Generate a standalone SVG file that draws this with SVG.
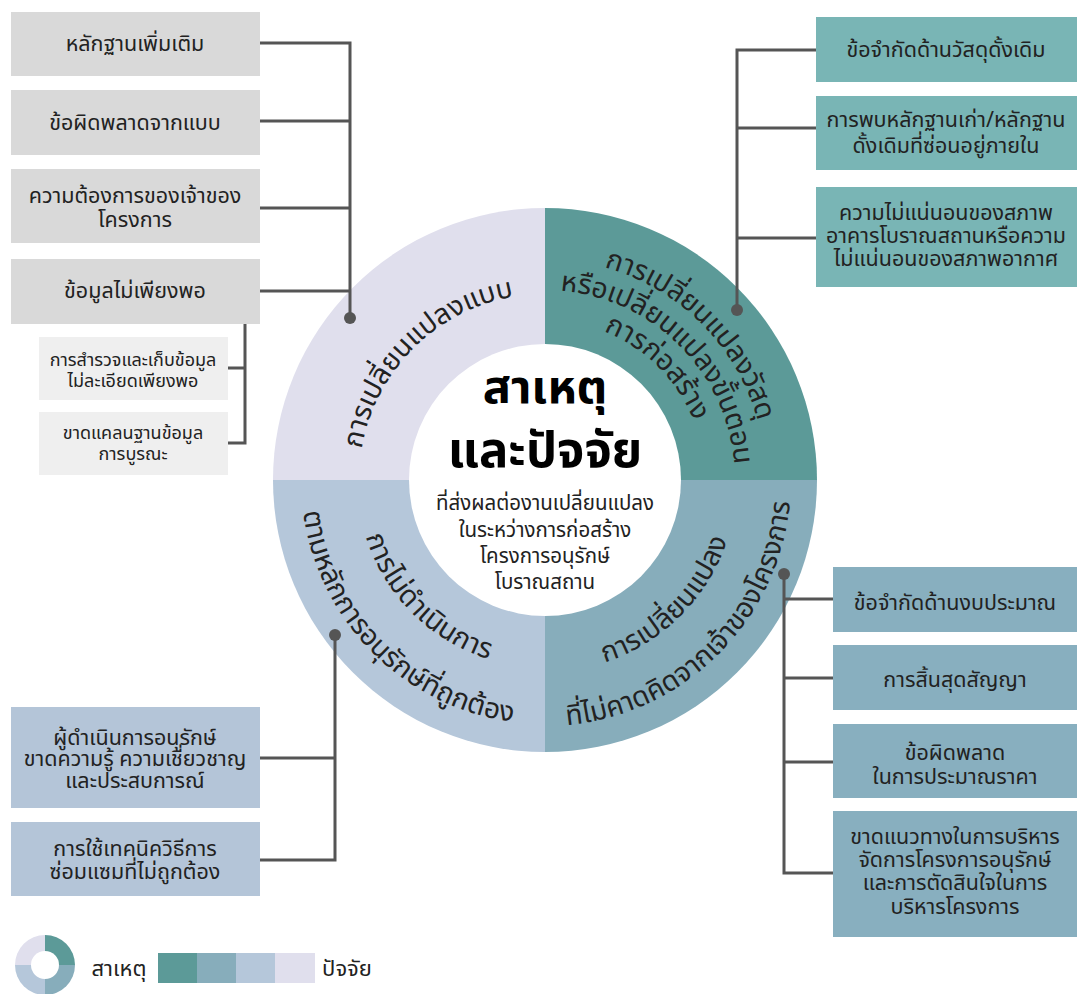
<svg xmlns="http://www.w3.org/2000/svg" width="1077" height="994" viewBox="0 0 1077 994">
<defs>
<style>
text{font-family:"Noto Sans Thai","Noto Sans",sans-serif;fill:#222;text-anchor:middle}
.bx{font-size:21.5px}
.sb{font-size:18px}
.arc{font-size:28px}
.ln{stroke:#555;stroke-width:3;fill:none}
.dot{fill:#555}
</style>
<path id="aTL" d="M 359 480 A 186 186 0 0 1 545 294"/>
<path id="aTR1" d="M 545 259 A 221 221 0 0 1 766 480"/>
<path id="aTR2" d="M 545 290 A 190 190 0 0 1 735 480"/>
<path id="aTR3" d="M 545 320 A 160 160 0 0 1 705 480"/>
<path id="aBR1" d="M 545 672 A 192 192 0 0 0 737 480"/>
<path id="aBR2" d="M 545 726 A 246 246 0 0 0 791 480"/>
<path id="aBL1" d="M 357 480 A 188 188 0 0 0 545 668"/>
<path id="aBL2" d="M 301 480 A 244 244 0 0 0 545 724"/>
</defs>
<rect width="1077" height="994" fill="#fff"/>

<g id="wheel">
<path d="M545 480 L273 480 A272 272 0 0 1 545 208 Z" fill="#e0dfed"/>
<path d="M545 480 L545 208 A272 272 0 0 1 817 480 Z" fill="#5c9a98"/>
<path d="M545 480 L817 480 A272 272 0 0 1 545 752 Z" fill="#87adbb"/>
<path d="M545 480 L545 752 A272 272 0 0 1 273 480 Z" fill="#b5c7da"/>
<circle cx="545" cy="480" r="136" fill="#fff"/>
</g>

<g id="center">
<text x="545" y="403" style="font-size:47px;font-weight:bold;fill:#000">สาเหตุ</text>
<text x="545" y="467" style="font-size:49px;font-weight:bold;fill:#000">และปัจจัย</text>
<text x="545" y="510" style="font-size:20.5px">ที่ส่งผลต่องานเปลี่ยนแปลง</text>
<text x="545" y="537" style="font-size:20.5px">ในระหว่างการก่อสร้าง</text>
<text x="545" y="563" style="font-size:20.5px">โครงการอนุรักษ์</text>
<text x="545" y="589" style="font-size:20.5px">โบราณสถาน</text>
</g>

<g id="q-design">
<text class="arc"><textPath href="#aTL" startOffset="50%">การเปลี่ยนแปลงแบบ</textPath></text>
</g>
<g id="q-material">
<text class="arc"><textPath href="#aTR1" startOffset="50%">การเปลี่ยนแปลงวัสดุ</textPath></text>
<text class="arc"><textPath href="#aTR2" startOffset="50%">หรือเปลี่ยนแปลงขั้นตอน</textPath></text>
<text class="arc"><textPath href="#aTR3" startOffset="50%">การก่อสร้าง</textPath></text>
</g>
<g id="q-owner">
<text class="arc"><textPath href="#aBR1" startOffset="50%">การเปลี่ยนแปลง</textPath></text>
<text class="arc"><textPath href="#aBR2" startOffset="50%">ที่ไม่คาดคิดจากเจ้าของโครงการ</textPath></text>
</g>
<g id="q-principle">
<text class="arc"><textPath href="#aBL1" startOffset="50%">การไม่ดำเนินการ</textPath></text>
<text class="arc"><textPath href="#aBL2" startOffset="50%">ตามหลักการอนุรักษ์ที่ถูกต้อง</textPath></text>
</g>

<g id="connectors">
<path class="ln" d="M260 43 H350 V318 M260 121 H350 M260 208 H350 M260 291 H350"/>
<path class="ln" d="M245 316 V443 H228 M228 368 H245"/>
<path class="ln" d="M737 310 V50 H816 M737 128 H816 M737 238 H816"/>
<path class="ln" d="M784 574 V873 H833 M784 599 H833 M784 678 H833 M784 762 H833"/>
<path class="ln" d="M335 635 V860 H260 M260 758 H335"/>
<circle class="dot" cx="350" cy="318" r="6"/>
<circle class="dot" cx="245" cy="316" r="5"/>
<circle class="dot" cx="737" cy="310" r="6"/>
<circle class="dot" cx="784" cy="574" r="6"/>
<circle class="dot" cx="335" cy="635" r="6"/>
</g>

<g id="n-evidence"><rect x="11" y="12" width="249" height="64" fill="#d9d9d9"/><text class="bx" x="135" y="51">หลักฐานเพิ่มเติม</text></g>
<g id="n-designerror"><rect x="11" y="90" width="249" height="65" fill="#d9d9d9"/><text class="bx" x="135" y="130">ข้อผิดพลาดจากแบบ</text></g>
<g id="n-ownerneed"><rect x="11" y="169" width="249" height="74" fill="#d9d9d9"/><text class="bx" x="135" y="203">ความต้องการของเจ้าของ</text><text class="bx" x="135" y="227">โครงการ</text></g>
<g id="n-insufficient"><rect x="11" y="259" width="249" height="65" fill="#d9d9d9"/><text class="bx" x="135" y="298">ข้อมูลไม่เพียงพอ</text></g>
<g id="n-survey"><rect x="39" y="337" width="189" height="63" fill="#efefef"/><text class="sb" x="133" y="366">การสำรวจและเก็บข้อมูล</text><text class="sb" x="133" y="387">ไม่ละเอียดเพียงพอ</text></g>
<g id="n-database"><rect x="39" y="412" width="189" height="63" fill="#efefef"/><text class="sb" x="133" y="439">ขาดแคลนฐานข้อมูล</text><text class="sb" x="133" y="460">การบูรณะ</text></g>

<g id="n-material"><rect x="816" y="17" width="261" height="65" fill="#79b5b5"/><text class="bx" x="946" y="57">ข้อจำกัดด้านวัสดุดั้งเดิม</text></g>
<g id="n-hidden"><rect x="816" y="96" width="261" height="74" fill="#79b5b5"/><text class="bx" x="946" y="127">การพบหลักฐานเก่า/หลักฐาน</text><text class="bx" x="946" y="153">ดั้งเดิมที่ซ่อนอยู่ภายใน</text></g>
<g id="n-uncertain"><rect x="816" y="187" width="261" height="100" fill="#79b5b5"/><text class="bx" x="946" y="220">ความไม่แน่นอนของสภาพ</text><text class="bx" x="946" y="243">อาคารโบราณสถานหรือความ</text><text class="bx" x="946" y="266">ไม่แน่นอนของสภาพอากาศ</text></g>

<g id="n-budget"><rect x="833" y="567" width="244" height="65" fill="#88afbf"/><text class="bx" x="955" y="610">ข้อจำกัดด้านงบประมาณ</text></g>
<g id="n-contract"><rect x="833" y="645" width="244" height="65" fill="#88afbf"/><text class="bx" x="955" y="687">การสิ้นสุดสัญญา</text></g>
<g id="n-estimate"><rect x="833" y="724" width="244" height="74" fill="#88afbf"/><text class="bx" x="955" y="760">ข้อผิดพลาด</text><text class="bx" x="955" y="784">ในการประมาณราคา</text></g>
<g id="n-management"><rect x="833" y="811" width="244" height="126" fill="#88afbf"/><text class="bx" x="955" y="844">ขาดแนวทางในการบริหาร</text><text class="bx" x="955" y="867">จัดการโครงการอนุรักษ์</text><text class="bx" x="955" y="890">และการตัดสินใจในการ</text><text class="bx" x="955" y="914">บริหารโครงการ</text></g>

<g id="n-expertise"><rect x="11" y="707" width="249" height="101" fill="#b4c5d8"/><text class="bx" x="135" y="745">ผู้ดำเนินการอนุรักษ์</text><text class="bx" x="135" y="766">ขาดความรู้ ความเชี่ยวชาญ</text><text class="bx" x="135" y="788">และประสบการณ์</text></g>
<g id="n-technique"><rect x="11" y="822" width="249" height="74" fill="#b4c5d8"/><text class="bx" x="135" y="856">การใช้เทคนิควิธีการ</text><text class="bx" x="135" y="879">ซ่อมแซมที่ไม่ถูกต้อง</text></g>

<g id="legend">
<path d="M45 965 L45 935 A30 30 0 0 1 75 965 Z" fill="#5c9a98"/>
<path d="M45 965 L75 965 A30 30 0 0 1 45 995 Z" fill="#87adbb"/>
<path d="M45 965 L45 995 A30 30 0 0 1 15 965 Z" fill="#b5c7da"/>
<path d="M45 965 L15 965 A30 30 0 0 1 45 935 Z" fill="#e0dfed"/>
<circle cx="45" cy="965" r="14" fill="#fff"/>
<text x="119" y="976" style="font-size:22px">สาเหตุ</text>
<rect x="158" y="953" width="40" height="30" fill="#5c9a98"/>
<rect x="197" y="953" width="40" height="30" fill="#87adbb"/>
<rect x="236" y="953" width="40" height="30" fill="#b5c7da"/>
<rect x="275" y="953" width="40" height="30" fill="#e0dfed"/>
<text x="347" y="976" style="font-size:22px">ปัจจัย</text>
</g>
</svg>
